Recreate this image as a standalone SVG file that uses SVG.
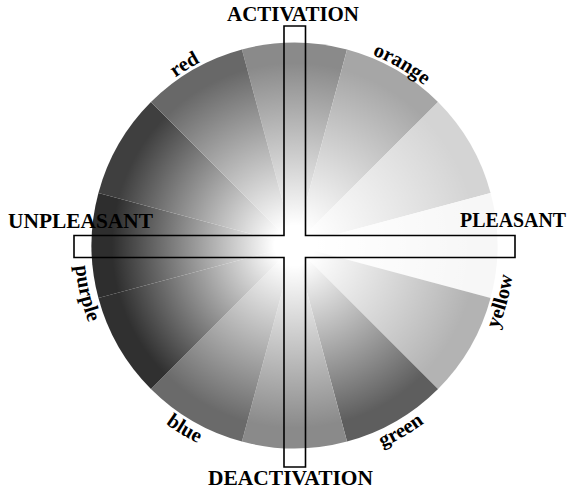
<svg xmlns="http://www.w3.org/2000/svg" width="568" height="492" viewBox="0 0 568 492">
<style>
.lbl{font-family:"Liberation Serif","Times New Roman",serif;font-weight:bold;font-size:20.5px;fill:#000}
.axis{font-family:"Liberation Serif","Times New Roman",serif;font-weight:bold;font-size:20.5px;fill:#000;text-anchor:middle}
.cross{fill:none;stroke:#000;stroke-width:1.6}
</style>
<defs>
<radialGradient id="glow" gradientUnits="userSpaceOnUse" cx="294.5" cy="245.5" r="203">
<stop offset="0" stop-color="#fff" stop-opacity="1"/>
<stop offset="0.1" stop-color="#fff" stop-opacity="1"/>
<stop offset="0.9" stop-color="#fff" stop-opacity="0"/>
</radialGradient>
<path id="cw" d="M294.5,39.5 A206,206 0 1 1 294.5,451.5 A206,206 0 1 1 294.5,39.5"/>
<path id="ccw" d="M294.5,25.5 A220,220 0 1 0 294.5,465.5 A220,220 0 1 0 294.5,25.5"/>
</defs>
<rect width="568" height="492" fill="#fff"/>
<g id="wheel">
<path fill="#8a8a8a" d="M294.5,245.5 L241.96,49.42 A203,203 0 0 1 347.04,49.42 Z"/>
<path fill="#a6a6a6" d="M294.5,245.5 L347.04,49.42 A203,203 0 0 1 438.04,101.96 Z"/>
<path fill="#d4d4d4" d="M294.5,245.5 L438.04,101.96 A203,203 0 0 1 490.58,192.96 Z"/>
<path fill="#f7f7f7" d="M294.5,245.5 L490.58,192.96 A203,203 0 0 1 490.58,298.04 Z"/>
<path fill="#b3b3b3" d="M294.5,245.5 L490.58,298.04 A203,203 0 0 1 438.04,389.04 Z"/>
<path fill="#5e5e5e" d="M294.5,245.5 L438.04,389.04 A203,203 0 0 1 347.04,441.58 Z"/>
<path fill="#8a8a8a" d="M294.5,245.5 L347.04,441.58 A203,203 0 0 1 241.96,441.58 Z"/>
<path fill="#6a6a6a" d="M294.5,245.5 L241.96,441.58 A203,203 0 0 1 150.96,389.04 Z"/>
<path fill="#303030" d="M294.5,245.5 L150.96,389.04 A203,203 0 0 1 98.42,298.04 Z"/>
<path fill="#2e2e2e" d="M294.5,245.5 L98.42,298.04 A203,203 0 0 1 98.42,192.96 Z"/>
<path fill="#3f3f3f" d="M294.5,245.5 L98.42,192.96 A203,203 0 0 1 150.96,101.96 Z"/>
<path fill="#686868" d="M294.5,245.5 L150.96,101.96 A203,203 0 0 1 241.96,49.42 Z"/>
<circle cx="294.5" cy="245.5" r="203" fill="url(#glow)"/>
</g>
<g id="connectors">
<path class="cross" d="M284,26 H305.5 V235.5 H515 V257.5 H305.5 V467 H284 V257.5 H74 V235.5 H284 Z"/>
</g>
<g id="activation"><text class="axis" x="293" y="21" textLength="132" lengthAdjust="spacingAndGlyphs">ACTIVATION</text></g>
<g id="deactivation"><text class="axis" x="290.5" y="485" textLength="165" lengthAdjust="spacingAndGlyphs">DEACTIVATION</text></g>
<g id="unpleasant"><text class="axis" x="80.5" y="228" textLength="145" lengthAdjust="spacingAndGlyphs">UNPLEASANT</text></g>
<g id="pleasant"><text class="axis" x="513" y="227" textLength="106" lengthAdjust="spacingAndGlyphs">PLEASANT</text></g>
<g id="red"><text class="lbl" text-anchor="middle"><textPath href="#cw" startOffset="91.3%">red</textPath></text></g>
<g id="orange"><text class="lbl" text-anchor="middle"><textPath href="#cw" startOffset="8.5%">orange</textPath></text></g>
<g id="yellow"><text class="lbl" text-anchor="middle"><textPath href="#ccw" startOffset="70.8%">yellow</textPath></text></g>
<g id="green"><text class="lbl" text-anchor="middle"><textPath href="#ccw" startOffset="58.3%">green</textPath></text></g>
<g id="blue"><text class="lbl" text-anchor="middle"><textPath href="#ccw" startOffset="41.4%">blue</textPath></text></g>
<g id="purple"><text class="lbl" text-anchor="middle"><textPath href="#ccw" startOffset="28.6%">purple</textPath></text></g>
</svg>
